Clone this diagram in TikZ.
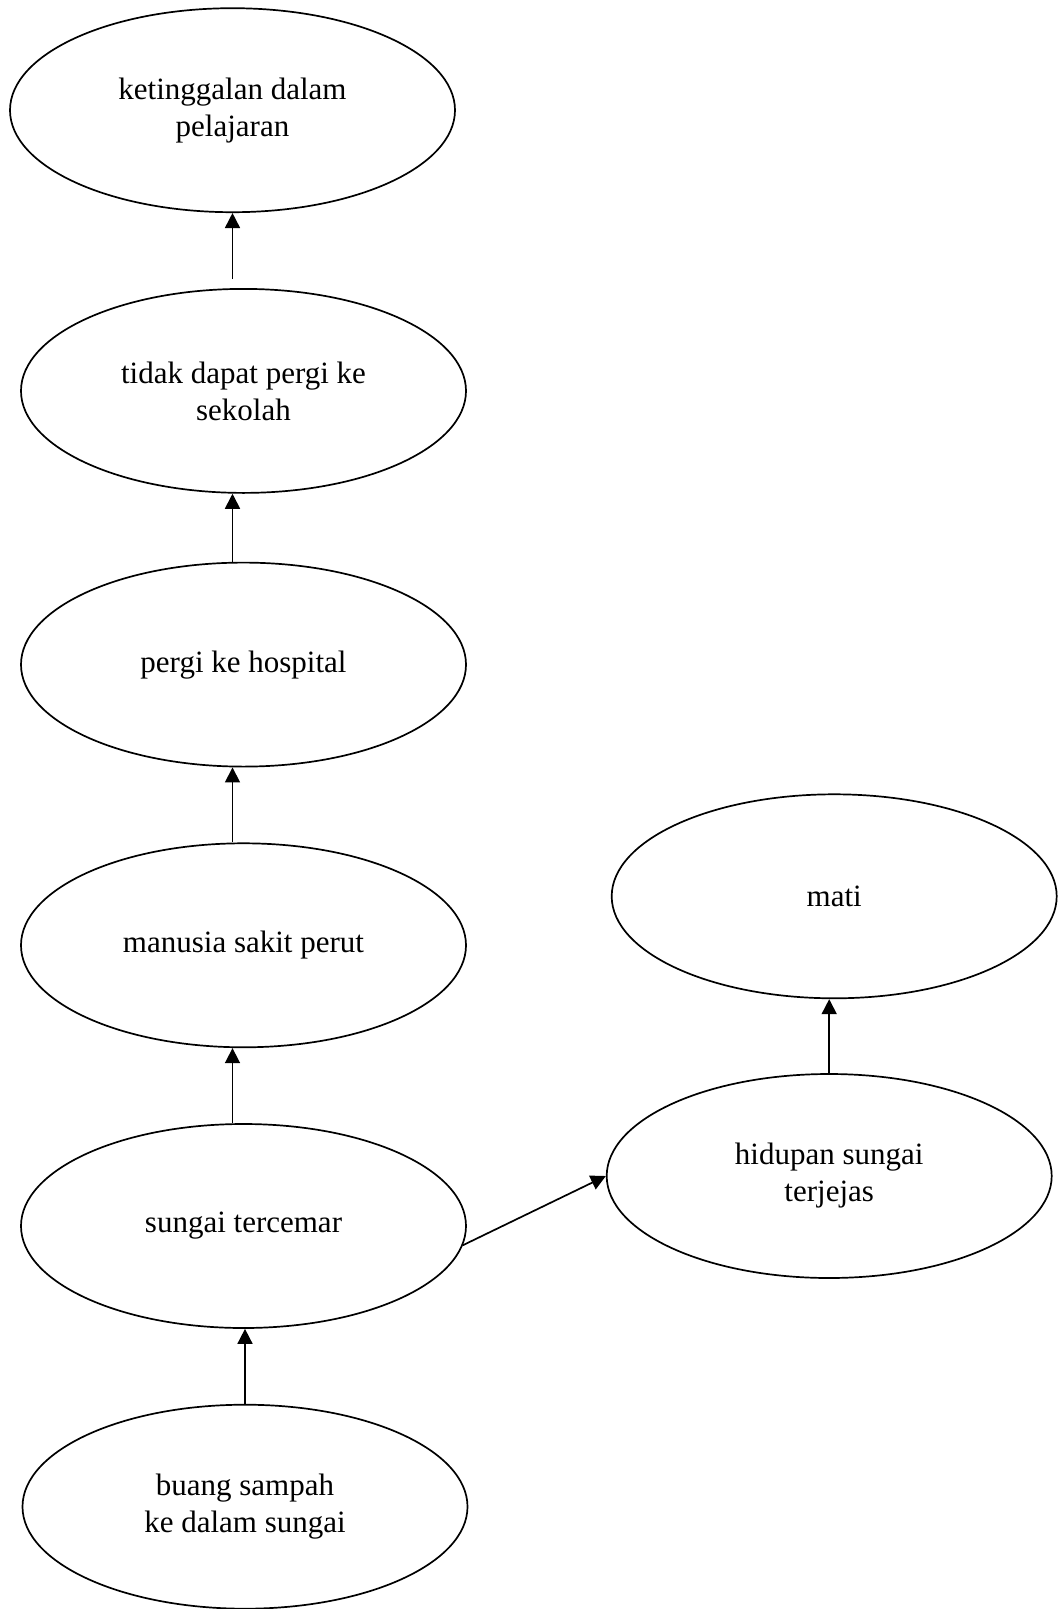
\documentclass[tikz,border=0pt]{standalone}
\usepackage{fontspec}
\setmainfont{Liberation Serif}
\usetikzlibrary{
  arrows.meta,
  positioning,
  shapes.geometric
}
\tikzset{
  bubble/.style={
    draw,
    ellipse,
    line width=1.7pt,
    minimum width=445pt,
    minimum height=204pt,
    inner sep=0pt,
    align=center,
    font=\fontsize{31}{37}\selectfont
  },
  flowarrow/.style={-{Triangle[length=15pt,width=15pt]},line width=1.7pt}
}

\begin{document}
\begin{tikzpicture}[x=1pt,y=1pt,node distance=75pt]
  \useasboundingbox (0,0) rectangle (1061,-1609);
  \node[bubble] (tercemar) at (243.5,-1226) {sungai tercemar};
  \node[bubble,above=of tercemar] (sakit) {manusia sakit perut};
  \node[bubble,above=of sakit] (hospital) {pergi ke hospital};
  \node[bubble,above=68pt of hospital] (tidak) {tidak dapat pergi ke\\sekolah};
  \node[bubble,above=of tidak,xshift=-11pt] (ketinggalan) {ketinggalan dalam\\pelajaran};
  \node[bubble,below=of tercemar,xshift=1.5pt] (buang) {buang sampah\\ke dalam sungai};
  \node[bubble,right=139pt of tercemar,yshift=50pt] (hidupan) {hidupan sungai\\terjejas};
  \node[bubble,above=74pt of hidupan,xshift=5pt] (mati) {mati};
  \draw[flowarrow,shorten <=9pt] (ketinggalan.south |- tidak.north) -- (ketinggalan.south);
  \draw[flowarrow] (ketinggalan.south |- hospital.north) -- (ketinggalan.south |- tidak.south);
  \draw[flowarrow] (ketinggalan.south |- sakit.north) -- (ketinggalan.south |- hospital.south);
  \draw[flowarrow] (ketinggalan.south |- tercemar.north) -- (ketinggalan.south |- sakit.south);
  \draw[flowarrow] (buang.north) -- (buang.north |- tercemar.south);
  \draw[flowarrow] (tercemar.-5) -- (hidupan.west);
  \draw[flowarrow] (hidupan.north) -- (hidupan.north |- mati.south);
\end{tikzpicture}
\end{document}
